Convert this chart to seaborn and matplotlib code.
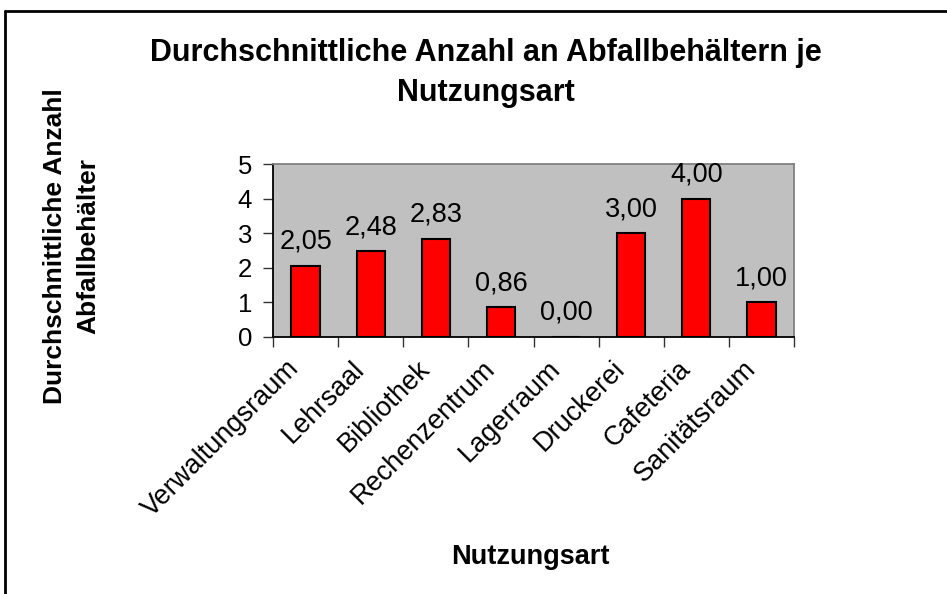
import matplotlib
matplotlib.use("Agg")
import matplotlib.pyplot as plt
import matplotlib.transforms as mtransforms
import seaborn as sns
from matplotlib.ticker import FixedLocator
from matplotlib.lines import Line2D

# Daten
nutzungsarten = ["Verwaltungsraum", "Lehrsaal", "Bibliothek", "Rechenzentrum",
                 "Lagerraum", "Druckerei", "Cafeteria", "Sanitätsraum"]
anzahl = [2.05, 2.48, 2.83, 0.86, 0.00, 3.00, 4.00, 1.00]
y_ticks = [0, 1, 2, 3, 4, 5]

titel = "Durchschnittliche Anzahl an Abfallbehältern je\nNutzungsart"
y_titel = "Durchschnittliche Anzahl\nAbfallbehälter"
x_titel = "Nutzungsart"

sns.set_style("white")
plt.rcParams["font.family"] = ["Liberation Sans", "DejaVu Sans"]
plt.rcParams["text.color"] = "black"
plt.rcParams["xtick.color"] = "black"
plt.rcParams["ytick.color"] = "black"

W, H = 947, 594
fig = plt.figure(figsize=(W / 100, H / 100), dpi=100)
ax = fig.add_axes([273 / W, 1 - 337 / H, 521 / W, 173 / H])
ax.set_facecolor("#C0C0C0")

sns.barplot(x=nutzungsarten, y=anzahl, color="#FF0000", saturation=1,
            edgecolor="black", linewidth=1.5, width=0.435, ax=ax)

ax.set_xlim(-0.5, len(nutzungsarten) - 0.5)
ax.set_ylim(0, 5)
ax.set_yticks(y_ticks)
ax.tick_params(axis="y", direction="out", length=7, width=1, color="#333333",
               labelsize=18.5, pad=8, left=True)

# Beschriftungen mittig, Striche an den Kategoriegrenzen
ax.xaxis.set_minor_locator(FixedLocator([i - 0.5 for i in range(len(nutzungsarten) + 1)]))
ax.tick_params(axis="x", which="minor", direction="out", length=7, width=1,
               color="#333333", bottom=True)
ax.tick_params(axis="x", which="major", length=0, pad=20, labelsize=19.5)
verschiebung = mtransforms.ScaledTranslation(-10 / 100, 0, fig.dpi_scale_trans)
for lbl in ax.get_xticklabels():
    lbl.set_rotation(45)
    lbl.set_ha("right")
    lbl.set_va("center")
    lbl.set_rotation_mode("anchor")
    lbl.set_transform(lbl.get_transform() + verschiebung)

for side in ["left", "bottom"]:
    ax.spines[side].set_color("black")
    ax.spines[side].set_linewidth(1.3)
for side in ["top", "right"]:
    ax.spines[side].set_visible(True)
    ax.spines[side].set_color("#808080")
    ax.spines[side].set_linewidth(1.3)

# Werte über den Balken
for i, v in enumerate(anzahl):
    ax.annotate(f"{v:.2f}".replace(".", ","), (i, v), xytext=(0, 8),
                textcoords="offset points", ha="center", va="bottom", fontsize=19.5)

ax.set_xlabel("")
ax.set_ylabel("")

fig.text(486 / W, 1 - 73 / H, titel, ha="center", va="center", fontsize=22,
         fontweight="bold", linespacing=1.42, multialignment="center")
fig.text(72 / W, 1 - 246 / H, y_titel, ha="center", va="center", rotation=90,
         fontsize=19, fontweight="bold", linespacing=1.5, multialignment="center")
fig.text(530 / W, 1 - 557 / H, x_titel, ha="center", va="center", fontsize=19.5,
         fontweight="bold")

# Rahmen des Diagrammbereichs
fig.add_artist(Line2D([5 / W, 5 / W], [0, 1 - 11 / H], transform=fig.transFigure,
                      color="black", linewidth=2))
fig.add_artist(Line2D([5 / W, 1], [1 - 11 / H, 1 - 11 / H], transform=fig.transFigure,
                      color="black", linewidth=2))

fig.savefig("out.png", dpi=100, facecolor="white")
